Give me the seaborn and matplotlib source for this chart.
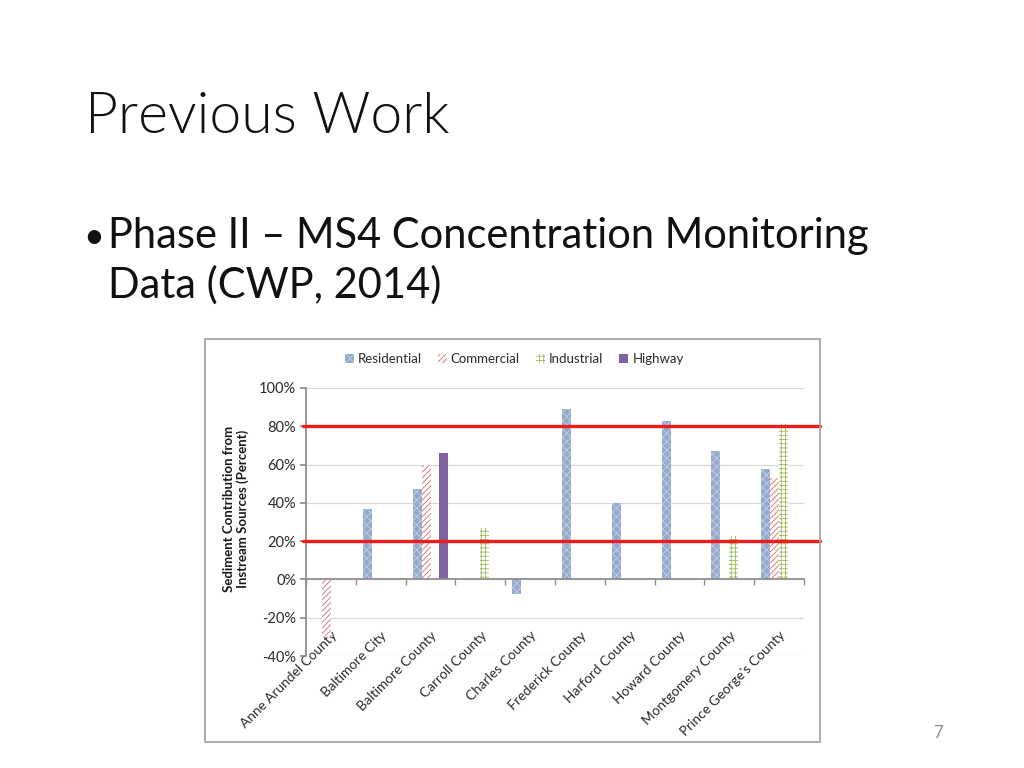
import numpy as np
import pandas as pd
import matplotlib
matplotlib.use('Agg')
import matplotlib.pyplot as plt
from matplotlib.patches import Patch, Rectangle
from matplotlib.ticker import PercentFormatter, FixedLocator
import seaborn as sns

# chart values (fractions)
counties = ['Anne Arundel County', 'Baltimore City', 'Baltimore County', 'Carroll County',
            'Charles County', 'Frederick County', 'Harford County', 'Howard County',
            'Montgomery County', "Prince George's County"]
sources = ['Residential', 'Commercial', 'Industrial', 'Highway']
nan = np.nan
residential = [nan, 0.37, 0.47, nan, -0.075, 0.89, 0.40, 0.83, 0.67, 0.575]
commercial = [-0.30, nan, 0.60, nan, nan, nan, nan, nan, nan, 0.53]
industrial = [nan, nan, nan, 0.27, nan, nan, nan, nan, 0.225, 0.81]
highway = [nan, nan, 0.66, nan, nan, nan, nan, nan, nan, nan]
target_lines = [0.80, 0.20]

rows = []
for src, vals in zip(sources, [residential, commercial, industrial, highway]):
    for c, v in zip(counties, vals):
        rows.append({'county': c, 'source': src, 'value': v})
df = pd.DataFrame(rows).dropna()

sns.set_theme(style='white')
plt.rcParams['font.family'] = ['Lato', 'DejaVu Sans']
plt.rcParams['axes.unicode_minus'] = False
plt.rcParams['hatch.linewidth'] = 0.6

fig = plt.figure(figsize=(10.24, 7.68), dpi=100)

# slide text
fig.text(85 / 1024, 1 - 133 / 768, 'Previous Work', fontsize=41, fontweight=300,
         color='#111111', va='baseline', ha='left')
fig.text(83 / 1024, 1 - 248 / 768, '•', fontsize=26, color='#111111', va='baseline')
fig.text(108 / 1024, 1 - 248 / 768, 'Phase II – MS4 Concentration Monitoring',
         fontsize=30, color='#111111', va='baseline')
fig.text(108 / 1024, 1 - 298 / 768, 'Data (CWP, 2014)',
         fontsize=30, color='#111111', va='baseline')
fig.text(938 / 1024, 1 - 733 / 768, '7', fontsize=12, color='#8c8c8c', ha='center', va='center')

# chart frame
fig.patches.append(Rectangle((205 / 1024, 1 - 742 / 768), 615 / 1024, 403 / 768,
                             transform=fig.transFigure, fill=False,
                             edgecolor='#a6a6a6', lw=1.3))

ax = fig.add_axes([306 / 1024, 1 - 656 / 768, 498 / 1024, 268 / 768])
sns.barplot(data=df, x='county', y='value', hue='source', order=counties,
            hue_order=sources, width=0.72, errorbar=None, ax=ax, legend=False)

styles = {
    'Residential': dict(facecolor='#93aacd', edgecolor='#c3d1e5', hatch='xxxx'),
    'Commercial': dict(facecolor='white', edgecolor='#d9696b', hatch='//////'),
    'Industrial': dict(facecolor='white', edgecolor='#9bbb59', hatch='++++'),
    'Highway': dict(facecolor='#7e62a1', edgecolor='#7e62a1', hatch=None),
}
for cont, src in zip(ax.containers, sources):
    for bar in cont:
        bar.set_facecolor(styles[src]['facecolor'])
        bar.set_edgecolor(styles[src]['edgecolor'])
        bar.set_hatch(styles[src]['hatch'])
        bar.set_linewidth(0)

ax.set_xlim(-0.5, len(counties) - 0.5)
ax.set_ylim(-0.4, 1.0)
ax.yaxis.set_major_locator(FixedLocator(np.arange(-0.4, 1.01, 0.2)))
ax.yaxis.set_major_formatter(PercentFormatter(1.0, decimals=0))
ax.grid(axis='y', color='#d9d9d9', lw=0.9)
ax.set_axisbelow(True)
for s in ['top', 'right']:
    ax.spines[s].set_visible(False)
ax.spines['left'].set_color('#8c8c8c')
ax.spines['bottom'].set_color('#8c8c8c')
ax.spines['bottom'].set_position(('data', 0))
ax.tick_params(axis='y', left=True, length=4, color='#8c8c8c', labelsize=10.5,
               labelcolor='#2a2a2a', pad=3)

ax.set_xticks(range(len(counties)))
ax.set_xticklabels(counties)
ax.set_xticks(np.arange(-0.5, len(counties), 1.0), minor=True)
ax.tick_params(axis='x', which='major', length=0, pad=36, labelsize=9.8, labelcolor='#2a2a2a')
ax.tick_params(axis='x', which='minor', bottom=True, length=4, color='#8c8c8c')
for lab in ax.get_xticklabels():
    lab.set_rotation(45)
    lab.set_ha('right')
    lab.set_rotation_mode('anchor')
ax.set_xlabel('')
ax.set_ylabel('')

fig.text(236 / 1024, 1 - 509 / 768, 'Sediment Contribution from\nInstream Sources (Percent)',
         rotation=90, ha='center', va='center', fontsize=9.5, fontweight='bold',
         color='#1a1a1a', multialignment='center', linespacing=1.1)

for y in target_lines:
    ax.axhline(y, xmin=-0.006, xmax=1.032, color='#ee1c1c', lw=2.4, clip_on=False, zorder=5)

handles = [Patch(facecolor=styles[s]['facecolor'], edgecolor=styles[s]['edgecolor'],
                 hatch=styles[s]['hatch'], lw=0, label=s) for s in sources]
ax.legend(handles=handles, ncol=4, loc='center', bbox_to_anchor=(0.418, 1.108),
          frameon=False, fontsize=9.5, handlelength=0.7, handleheight=0.7,
          handletextpad=0.3, columnspacing=1.2, labelcolor='#2a2a2a')

fig.savefig('out.png', dpi=100)
